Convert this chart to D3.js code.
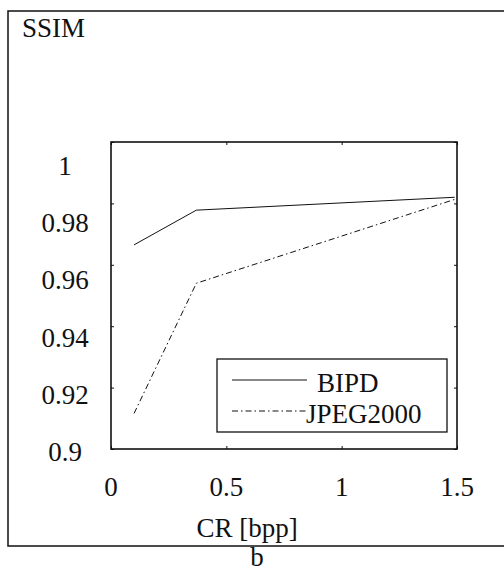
<!DOCTYPE html>
<html>
<head>
<meta charset="utf-8">
<script src="https://cdn.jsdelivr.net/npm/d3@7"></script>
</head>
<body style="margin:0;background:#fff">
<svg width="504" height="572"></svg>
<script>
// data
const crValues = [0.1, 0.37, 1.49];
const bipd = [0.9665, 0.9778, 0.982];
const jpeg2000 = [0.9116, 0.954, 0.9813];
const seriesNames = ["BIPD", "JPEG2000"];
const xTicks = [0, 0.5, 1, 1.5];
const yTicks = [0.9, 0.92, 0.94, 0.96, 0.98, 1];
const yLabel = "SSIM";
const xLabel = "CR [bpp]";
const panelLabel = "b";

const svg = d3.select('svg');

var box = { left: 111, top: 142, right: 457, bottom: 449 };

var xScale = d3.scaleLinear().domain([0, 1.5]).range([box.left, box.right]);
var yScale = d3.scaleLinear().domain([0.9, 1]).range([box.bottom, box.top]);
// the tick labels of the scan sit on their own, slightly squeezed spacing
var yLabelScale = d3.scaleLinear().domain([0.9, 1]).range([461, 175]);

// outer frame (open on the right)
svg.append('path')
  .attr('d', 'M504,11 H8 V546 H504')
  .attr('fill', 'none')
  .attr('stroke', '#111')
  .attr('stroke-width', 1.5);

// inward ticks on all four sides
var ticksG = svg.append('g');
ticksG.append('g').attr('transform', `translate(0,${box.bottom})`)
  .call(d3.axisTop(xScale).tickValues(xTicks).tickSize(3).tickFormat(''));
ticksG.append('g').attr('transform', `translate(0,${box.top})`)
  .call(d3.axisBottom(xScale).tickValues(xTicks).tickSize(3).tickFormat(''));
ticksG.append('g').attr('transform', `translate(${box.left},0)`)
  .call(d3.axisRight(yScale).tickValues(yTicks).tickSize(3).tickFormat(''));
ticksG.append('g').attr('transform', `translate(${box.right},0)`)
  .call(d3.axisLeft(yScale).tickValues(yTicks).tickSize(3).tickFormat(''));
ticksG.selectAll('.domain').remove();
ticksG.selectAll('text').remove();
ticksG.selectAll('line').attr('stroke', '#111');

// plot box
svg.append('rect')
  .attr('x', box.left).attr('y', box.top)
  .attr('width', box.right - box.left).attr('height', box.bottom - box.top)
  .attr('fill', 'none').attr('stroke', '#111').attr('stroke-width', 1.6);

function label(sel) {
  return sel.style('font-family', '"Liberation Serif", "Times New Roman", serif')
    .attr('font-size', 27).attr('fill', '#111');
}

// tick labels
svg.append('g').selectAll('text').data(yTicks).enter().append('text')
  .call(label)
  .attr('x', 65)
  .attr('y', d => yLabelScale(d))
  .attr('text-anchor', 'middle')
  .text(d => d3.format('')(d));

svg.append('g').selectAll('text').data(xTicks).enter().append('text')
  .call(label)
  .attr('x', d => xScale(d))
  .attr('y', 496)
  .attr('text-anchor', 'middle')
  .text(d => d3.format('')(d));

// series
var line = d3.line()
  .x(d => xScale(d[0]))
  .y(d => yScale(d[1]));

const dashes = ["none", "6,3,1.5,3"];
[bipd, jpeg2000].forEach((vals, i) => {
  svg.append('path')
    .datum(crValues.map((c, j) => [c, vals[j]]))
    .attr('fill', 'none')
    .attr('stroke', '#111')
    .attr('stroke-width', 1)
    .attr('stroke-dasharray', dashes[i])
    .attr('d', line);
});

// legend
var legend = svg.append('g');
legend.append('rect')
  .attr('x', 217).attr('y', 359).attr('width', 230).attr('height', 73)
  .attr('fill', '#fff').attr('stroke', '#111').attr('stroke-width', 1.3);
var items = legend.selectAll('g.item').data(seriesNames).enter().append('g')
  .attr('class', 'item')
  .attr('transform', (d, i) => `translate(0,${380 + i * 31})`);
items.append('line')
  .attr('x1', 232).attr('x2', 307)
  .attr('stroke', '#111').attr('stroke-width', 1)
  .attr('stroke-dasharray', (d, i) => dashes[i]);
items.append('text')
  .call(label)
  .attr('x', (d, i) => i === 0 ? 317 : 306)
  .attr('y', 12)
  .text(d => d);

// axis titles
svg.append('text').call(label).attr('x', 22).attr('y', 37).text(yLabel);
svg.append('text').call(label).attr('x', 247).attr('y', 537).attr('text-anchor', 'middle')
  .text(xLabel);
svg.append('text').call(label).attr('x', 257).attr('y', 566).attr('text-anchor', 'middle')
  .text(panelLabel);
</script>
</body>
</html>
